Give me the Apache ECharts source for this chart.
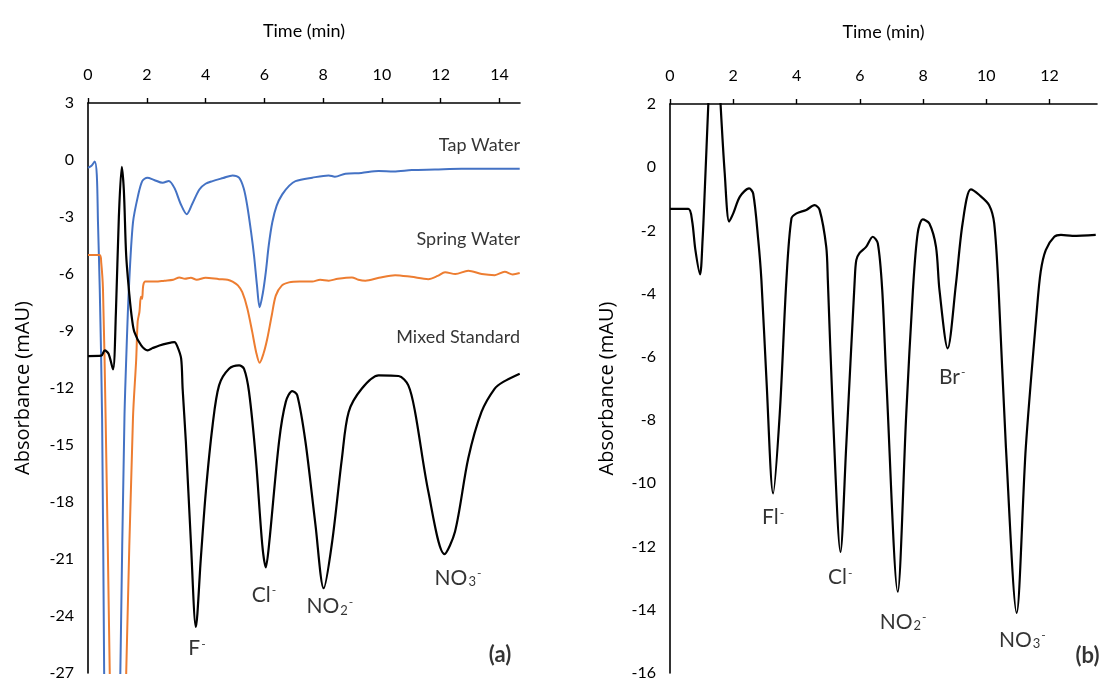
<!DOCTYPE html>
<html>
<head>
<meta charset="utf-8">
<script src="https://cdn.jsdelivr.net/npm/echarts@6/dist/echarts.min.js"></script>
<style>
  html, body { margin: 0; padding: 0; background: #fff; }
  #chart { width: 1105px; height: 681px; }
</style>
</head>
<body>
<div id="chart"></div>
<script>
// Chromatograms: [time (min), absorbance (mAU)]
// (a) real samples and mixed standard
const tapWater = [
  [0, -0.41], [0.12, -0.3], [0.23, -0.08], [0.3, -0.8], [0.34, -3.3], [0.4, -6.8], [0.48, -13.6],
  [0.55, -27], [0.62, -40], [1.02, -40], [1.1, -27], [1.24, -13.6], [1.3, -10.5], [1.39, -6.8],
  [1.53, -3.3], [1.7, -1.9], [1.85, -1.1], [2.02, -0.93], [2.25, -1.05], [2.54, -1.2], [2.75, -1.1],
  [2.95, -1.5], [3.15, -2.3], [3.36, -2.85], [3.55, -2.3], [3.79, -1.55], [4.0, -1.25], [4.24, -1.11],
  [4.6, -0.95], [4.92, -0.81], [5.14, -0.93], [5.3, -1.5], [5.42, -2.42], [5.55, -3.8], [5.65, -5.04],
  [5.75, -6.6], [5.84, -7.75], [5.95, -7.0], [6.05, -5.9], [6.15, -4.5], [6.27, -3.29], [6.42, -2.4],
  [6.61, -1.81], [6.85, -1.35], [7.06, -1.11], [7.63, -0.93], [8.19, -0.81], [8.4, -0.88], [8.76, -0.72],
  [9.3, -0.68], [9.89, -0.58], [10.4, -0.6], [11.02, -0.53], [11.8, -0.5], [12.71, -0.46], [13.5, -0.46],
  [14.69, -0.46]
];
const springWater = [
  [0, -5.0], [0.4, -5.0], [0.45, -5.4], [0.51, -6.8], [0.6, -13.6], [0.74, -27], [0.85, -40],
  [1.15, -40], [1.3, -27], [1.53, -13.6], [1.64, -10.5], [1.69, -8.5], [1.75, -8.0], [1.8, -7.2],
  [1.84, -7.3], [1.88, -6.6], [1.95, -6.4], [2.3, -6.4], [2.6, -6.35], [2.9, -6.3], [3.11, -6.18],
  [3.3, -6.25], [3.5, -6.2], [3.7, -6.3], [4.0, -6.2], [4.46, -6.27], [4.75, -6.3], [4.92, -6.4],
  [5.1, -6.6], [5.25, -6.96], [5.42, -7.8], [5.59, -9.06], [5.72, -10.1], [5.84, -10.67], [5.97, -10.2],
  [6.1, -9.41], [6.25, -8.2], [6.39, -7.14], [6.6, -6.6], [6.84, -6.44], [7.2, -6.4], [7.63, -6.4],
  [7.9, -6.3], [8.19, -6.35], [8.5, -6.25], [8.98, -6.18], [9.2, -6.3], [9.44, -6.35], [9.9, -6.2],
  [10.45, -6.06], [11.0, -6.15], [11.58, -6.27], [11.9, -6.1], [12.15, -5.91], [12.5, -6.0],
  [12.94, -5.83], [13.4, -6.0], [13.84, -6.06], [14.18, -5.88], [14.45, -6.02], [14.69, -5.95]
];
const mixedStandardA = [
  [0, -10.32], [0.45, -10.3], [0.57, -10.02], [0.7, -10.2], [0.85, -11.02], [0.95, -8.0], [1.05, -3.0],
  [1.15, -0.36], [1.22, -1.6], [1.3, -5.04], [1.41, -7.14], [1.5, -8.4], [1.58, -9.06], [1.81, -9.76],
  [2.03, -10.02], [2.2, -9.9], [2.43, -9.76], [2.7, -9.65], [2.94, -9.59], [3.05, -9.85], [3.17, -10.46],
  [3.22, -12.03], [3.33, -14.83], [3.5, -20.07], [3.67, -24.58], [3.84, -20.95], [4.01, -17.45],
  [4.24, -13.96], [4.46, -11.86], [4.8, -10.99], [5.14, -10.81], [5.31, -10.99], [5.48, -12.21],
  [5.71, -15.7], [5.93, -20.25], [6.05, -21.44], [6.16, -20.25], [6.5, -14.83], [6.73, -12.73],
  [6.95, -12.16], [7.12, -12.38], [7.4, -14.83], [7.74, -19.2], [8.02, -22.54], [8.31, -20.07],
  [8.64, -15.7], [8.87, -13.26], [9.32, -12.03], [9.89, -11.34], [10.57, -11.37], [10.9, -11.86],
  [11.13, -13.26], [11.58, -17.45], [12.13, -20.74], [12.49, -19.55], [12.94, -15.7], [13.39, -13.26],
  [13.84, -12.03], [14.13, -11.68], [14.69, -11.25]
];
// (b) mixed standard with bromide
const mixedStandardB = [
  [0, -1.32], [0.58, -1.32], [0.7, -1.7], [0.8, -2.6], [0.95, -3.39], [1.03, -2.3], [1.1, -0.72],
  [1.21, 1.97], [1.3, 4], [1.5, 4], [1.6, 1.97], [1.73, -0.19], [1.87, -1.72], [2.0, -1.46],
  [2.21, -0.93], [2.5, -0.67], [2.63, -0.83], [2.79, -2.3], [2.89, -3.57], [3.05, -6.73], [3.26, -10.32],
  [3.47, -7.79], [3.68, -3.57], [3.84, -1.62], [4.0, -1.46], [4.31, -1.35], [4.57, -1.2], [4.73, -1.35],
  [4.94, -2.52], [4.99, -3.57], [5.15, -7.79], [5.39, -12.17], [5.57, -8.85], [5.84, -3.57], [5.89, -2.94],
  [5.99, -2.72], [6.2, -2.52], [6.41, -2.2], [6.57, -2.41], [6.71, -3.89], [6.84, -6.73], [7.2, -13.43],
  [7.47, -7.79], [7.68, -3.89], [7.83, -2.09], [7.99, -1.65], [8.2, -1.78], [8.41, -2.52], [8.52, -3.89],
  [8.78, -5.73], [9.04, -3.7], [9.25, -1.78], [9.51, -0.7], [9.78, -0.88], [10.09, -1.2], [10.25, -1.78],
  [10.39, -3.89], [10.62, -8.85], [10.96, -14.1], [11.25, -8.85], [11.6, -4.5], [11.72, -3.3],
  [11.88, -2.62], [12.15, -2.2], [12.36, -2.14], [12.72, -2.17], [13.46, -2.14]
];

const traceNamesA = ['Tap Water', 'Spring Water', 'Mixed Standard'];
const ionNamesA = ['F{sup|-}', 'Cl{sup|-}', 'NO{sub|2}{sup|-}', 'NO{sub|3}{sup|-}'];
const ionNamesB = ['Fl{sup|-}', 'Cl{sup|-}', 'NO{sub|2}{sup|-}', 'Br{sup|-}', 'NO{sub|3}{sup|-}'];

// Where each text label sits, in data units of its panel
const traceNameAt = [[14.7, 0.8], [14.7, -4.18], [14.7, -9.32]];
const ionAtA = [[3.71, -25.7], [5.99, -22.9], [8.23, -23.5], [12.59, -22.0]];
const ionAtB = [[3.26, -11.07], [5.38, -12.97], [7.37, -14.39], [8.92, -6.64], [11.14, -14.96]];
const panelTagAt = [[14.02, -26.05], [13.2, -15.47]];

const textColor = '#000';
const tickFont = 'Lato, "Open Sans", sans-serif';
const richParts = {
  sup: { fontSize: 12, verticalAlign: 'top', fontFamily: tickFont, color: textColor, padding: [0, 0, 0, 1] },
  sub: { fontSize: 13, verticalAlign: 'bottom', fontFamily: tickFont, color: textColor, padding: [0, 0, 0, 1] }
};

function xAxisFor(grid, max) {
  return {
    gridIndex: grid, type: 'value', position: 'top', min: 0, max: max, interval: 2,
    name: 'Time (min)', nameLocation: 'middle', nameGap: 63,
    nameTextStyle: { fontFamily: tickFont, fontSize: 18, color: textColor },
    axisLine: { onZero: false, lineStyle: { color: '#000', width: 1.6 } },
    axisTick: { show: true, inside: false, length: 5, lineStyle: { color: '#000', width: 1.4 } },
    axisLabel: { margin: 20, fontFamily: tickFont, fontSize: 16, color: textColor, showMaxLabel: false },
    splitLine: { show: false }
  };
}
function yAxisFor(grid, min, max, step, gap) {
  return {
    gridIndex: grid, type: 'value', min: min, max: max, interval: step,
    name: 'Absorbance (mAU)', nameLocation: 'middle', nameGap: gap, nameRotate: 90,
    nameTextStyle: { fontFamily: '"Open Sans", sans-serif', fontSize: 20, color: textColor },
    axisLine: { onZero: false, lineStyle: { color: '#000', width: 1.6 } },
    axisTick: { show: false },
    axisLabel: { margin: 14, fontFamily: tickFont, fontSize: 16, color: textColor },
    splitLine: { show: false }
  };
}
function trace(name, data, color, width, axis) {
  return {
    name: name, type: 'line', data: data, xAxisIndex: axis, yAxisIndex: axis,
    showSymbol: false, symbol: 'none', smooth: 0.3, clip: true,
    lineStyle: { color: color, width: width }, silent: true, z: 3
  };
}
function labelLayer(axis, items) {
  return {
    type: 'scatter', xAxisIndex: axis, yAxisIndex: axis, symbolSize: 0, silent: true, z: 5,
    data: items, clip: false
  };
}
function textItem(at, text, opts) {
  return {
    value: at,
    label: Object.assign({
      show: true, position: 'inside', formatter: text,
      fontFamily: tickFont, fontSize: 21, color: textColor, rich: richParts
    }, opts || {})
  };
}

const labelsA = []
  .concat(traceNamesA.map((t, i) => textItem(traceNameAt[i], t, { position: 'left', distance: 0, fontSize: 18 })))
  .concat(ionNamesA.map((t, i) => textItem(ionAtA[i], t)))
  .concat([textItem(panelTagAt[0], '(a)', { fontWeight: 'bold', fontSize: 22 })]);
const labelsB = []
  .concat(ionNamesB.map((t, i) => textItem(ionAtB[i], t)))
  .concat([textItem(panelTagAt[1], '(b)', { fontWeight: 'bold', fontSize: 22 })]);

const chart = echarts.init(document.getElementById('chart'), null, { renderer: 'canvas' });
chart.setOption({
  animation: false,
  backgroundColor: '#fff',
  grid: [
    { left: 88, top: 103, width: 432, height: 572 },
    { left: 670, top: 104, width: 427, height: 570 }
  ],
  xAxis: [xAxisFor(0, 14.7), xAxisFor(1, 13.5)],
  yAxis: [yAxisFor(0, -27, 3, 3, 55), yAxisFor(1, -16, 2, 2, 53)],
  series: [
    trace('Tap Water', tapWater, '#4472C4', 2, 0),
    trace('Spring Water', springWater, '#ED7D31', 2, 0),
    trace('Mixed Standard', mixedStandardA, '#000000', 2.2, 0),
    trace('Mixed Standard', mixedStandardB, '#000000', 2.2, 1),
    labelLayer(0, labelsA),
    labelLayer(1, labelsB)
  ]
});
</script>
</body>
</html>
